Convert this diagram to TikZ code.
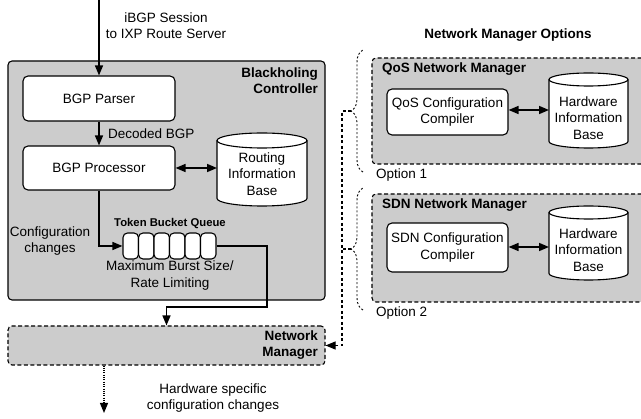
\documentclass[tikz,border=0pt]{standalone}
\usepackage{fontspec}
\setmainfont{Liberation Sans}
\usetikzlibrary{arrows.meta,calc,decorations.pathreplacing}
\pgfdeclarelayer{back}
\pgfdeclarelayer{mid}
\pgfsetlayers{back,mid,main}
\newcommand{\cylshape}[5]{% cx, top, bottom, rx, ry
  \begin{pgfonlayer}{mid}
  \path[fill=white,draw,line width=1.1pt] (#1-#4,#2+#5) -- (#1-#4,#3-#5)
     arc[start angle=180,end angle=0,x radius=#4,y radius=#5] -- (#1+#4,#2+#5);
  \path[fill=white,draw,line width=1.1pt] (#1,#2+#5) ellipse[x radius=#4,y radius=#5];
  \end{pgfonlayer}}
\begin{document}
\begin{tikzpicture}[x=1pt,y=-1pt,
  font=\fontsize{13.5}{16.3}\selectfont,
  box/.style={draw, fill=white, rounded corners=5pt, line width=1.1pt, align=center, inner sep=0pt},
  container/.style={draw, fill=gray!40, rounded corners=4pt, line width=1.1pt, inner sep=0pt},
  dcontainer/.style={container, dash pattern=on 4pt off 2.5pt},
  cell/.style={draw, fill=white, rounded corners=4.5pt, line width=1.1pt, minimum width=15.5pt, minimum height=26pt, inner sep=0pt},
  txt/.style={align=center, inner sep=0pt},
  title/.style={align=right, inner sep=0pt, font=\fontsize{13.5}{16.3}\selectfont\bfseries},
  flow/.style={line width=1.5pt, -{Triangle[length=10pt,width=8pt]}},
  dflow/.style={line width=1.5pt, {Triangle[length=10pt,width=8pt]}-{Triangle[length=10pt,width=8pt]}},
  link/.style={line width=1.1pt, dash pattern=on 3pt off 2.5pt},
  bracestyle/.style={line width=0.9pt, dash pattern=on 2pt off 2pt, decorate, decoration={brace, amplitude=12pt}}
]
\clip (0,0) rectangle (641,419);

% containers
\begin{pgfonlayer}{back}
\node[container, minimum width=317pt, minimum height=239pt] (ctrl) at (166.5,180.5) {};
\node[dcontainer, minimum width=317pt, minimum height=39pt] (nm) at (166.5,345.5) {};
\node[dcontainer, minimum width=280pt, minimum height=106pt] (qos) at (512,111) {};
\node[dcontainer, minimum width=280pt, minimum height=108pt] (sdn) at (512,248) {};
\end{pgfonlayer}

% titles
\node[title, anchor=east] (ctrlT) at (318,81) {Blackholing\\Controller};
\node[title, anchor=east] (nmT) at (318,345) {Network\\Manager};
\node[title, anchor=west] (qosT) at (382,69) {QoS Network Manager};
\node[title, anchor=west] (sdnT) at (382,205) {SDN Network Manager};
\node[title, anchor=center, align=center] (opts) at (508,35) {Network Manager Options};

% blackholing controller contents
\node[box, minimum width=152pt, minimum height=45pt] (parser) at (99,98.5) {BGP Parser};
\node[box, minimum width=152pt, minimum height=44pt] (proc) at (99,168) {BGP Processor};
\cylshape{262}{133}{206}{45}{7.5}
\node[txt] (rib) at (262,174) {Routing\\Information\\Base};
\coordinate (ribL) at (217,168);

\foreach \i in {1,...,6} {
  \node[cell] (q\i) at ({123+7.75+15.5*(\i-1)},246) {};
}
\node[txt, font=\fontsize{11.3}{13}\selectfont\bfseries] (tbq) at (170,224) {Token Bucket Queue};
\node[txt] (mbs) at (170,275.5) {Maximum Burst Size/\\Rate Limiting};
\node[txt] (cfg) at (50,241) {Configuration\\changes};

% inputs / outputs
\coordinate (in) at (99,0);
\node[txt] (ibgp) at (166,26) {iBGP Session\\to IXP Route Server};
\node[txt, anchor=west] (dec) at (108,134) {Decoded BGP};
\coordinate (out) at (104,413);
\node[txt] (hw) at (213,398) {Hardware specific\\configuration changes};

\draw[flow] (in) -- (parser.north);
\draw[flow] (parser.south) -- (proc.north);
\draw[dflow] (proc.east) -- (ribL);
\coordinate (j) at (267,307);
\draw[flow] (proc.south) |- (q1.west);
\draw[flow] (q6.east) -| (j) -| (nm.north);
\draw[line width=1.1pt, dash pattern=on 1pt off 1.3pt, -{Triangle[length=10pt,width=8pt]}] (nm.south -| out) -- (out);

% QoS option
\node[box, minimum width=121pt, minimum height=46pt] (qcc) at (447.5,112) {QoS Configuration\\Compiler};
\cylshape{588.5}{73}{148}{39.5}{6.5}
\node[txt] (qhib) at (588.5,118) {Hardware\\Information\\Base};
\node[txt, anchor=west] (opt1) at (376,175) {Option 1};

% SDN option
\node[box, minimum width=121pt, minimum height=49pt] (scc) at (447.5,247.5) {SDN Configuration\\Compiler};
\cylshape{588.5}{206}{280}{39.5}{6.5}
\node[txt] (shib) at (588.5,250) {Hardware\\Information\\Base};
\node[txt, anchor=west] (opt2) at (376,313) {Option 2};

% double arrows on the right
\coordinate (qa) at (549,110);
\coordinate (sa) at (549,247);
\draw[dflow] (qcc.east |- qa) -- (qa);
\draw[dflow] (scc.east |- sa) -- (sa);

% braces
\draw[bracestyle] (363,172) -- (363,50);
\draw[bracestyle] (363,310) -- (363,188);
\coordinate (b1) at (351,111);
\coordinate (b2) at (351,249);
\draw[link, -{Triangle[length=10pt,width=8pt]}] (b1) -- (342,111) |- (nm.east);
\draw[link] (b2) -- (342,249);
\end{tikzpicture}
\end{document}
